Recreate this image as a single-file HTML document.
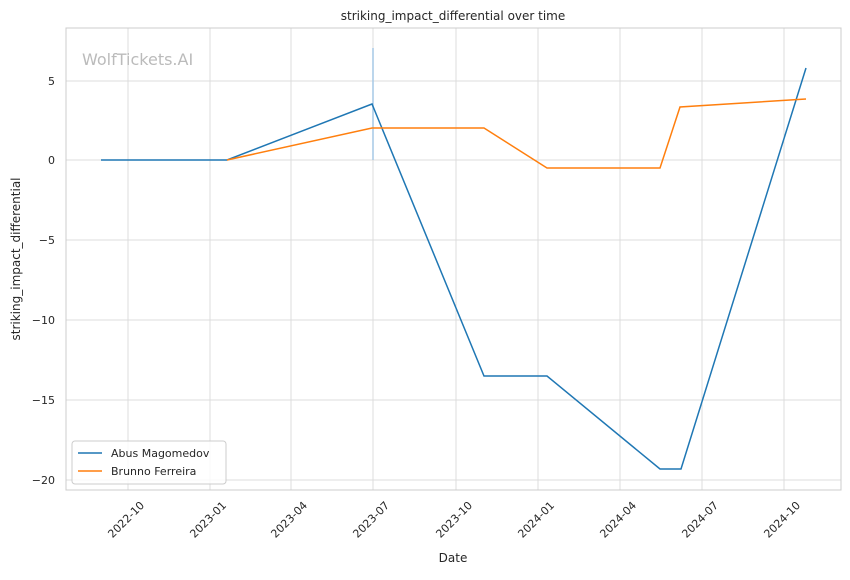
<!DOCTYPE html>
<html><head><meta charset="utf-8"><style>
body{margin:0;background:#fff;font-family:"Liberation Sans","DejaVu Sans",sans-serif;}
</style></head><body>
<svg width="850" height="575" xmlns="http://www.w3.org/2000/svg" font-family="DejaVu Sans, Liberation Sans, sans-serif">
<rect width="850" height="575" fill="#fff"/>
<g stroke="#dcdcdc" stroke-width="1">
<line x1="128" y1="28" x2="128" y2="490"/><line x1="210" y1="28" x2="210" y2="490"/>
<line x1="291" y1="28" x2="291" y2="490"/><line x1="373" y1="28" x2="373" y2="490"/>
<line x1="456" y1="28" x2="456" y2="490"/><line x1="538" y1="28" x2="538" y2="490"/>
<line x1="620" y1="28" x2="620" y2="490"/><line x1="702" y1="28" x2="702" y2="490"/>
<line x1="784" y1="28" x2="784" y2="490"/>
<line x1="66" y1="81" x2="841" y2="81"/><line x1="66" y1="160" x2="841" y2="160"/>
<line x1="66" y1="240" x2="841" y2="240"/><line x1="66" y1="320" x2="841" y2="320"/>
<line x1="66" y1="400" x2="841" y2="400"/><line x1="66" y1="480" x2="841" y2="480"/>
</g>
<rect x="66" y="28" width="775" height="462" fill="none" stroke="#ccc" stroke-width="1"/>
<text x="82" y="65" font-size="16" fill="#bbb">WolfTickets.AI</text>
<line x1="373" y1="48" x2="373" y2="160" stroke="#a6c8e6" stroke-width="1.5"/>
<polyline fill="none" stroke="#1f77b4" stroke-width="1.5" points="101,160 227,160 372,104 484,376 547,376 660,469 681,469 806,68"/>
<polyline fill="none" stroke="#ff7f0e" stroke-width="1.5" points="227,160 372,128 484,128 547,168 660,168 680,107 806,99"/>
<g font-size="11" fill="#262626" text-anchor="end">
<text x="55" y="85">5</text><text x="55" y="164">0</text><text x="55" y="244">−5</text>
<text x="55" y="324">−10</text><text x="55" y="404">−15</text><text x="55" y="484">−20</text>
</g>
<g font-size="11" fill="#262626" text-anchor="end">
<text transform="translate(145,506) rotate(-45)">2022-10</text>
<text transform="translate(227,506) rotate(-45)">2023-01</text>
<text transform="translate(308,506) rotate(-45)">2023-04</text>
<text transform="translate(390,506) rotate(-45)">2023-07</text>
<text transform="translate(473,506) rotate(-45)">2023-10</text>
<text transform="translate(555,506) rotate(-45)">2024-01</text>
<text transform="translate(637,506) rotate(-45)">2024-04</text>
<text transform="translate(719,506) rotate(-45)">2024-07</text>
<text transform="translate(801,506) rotate(-45)">2024-10</text>
</g>
<text x="453" y="562" font-size="12" fill="#262626" text-anchor="middle">Date</text>
<text transform="translate(20,259) rotate(-90)" font-size="12" fill="#262626" text-anchor="middle">striking_impact_differential</text>
<text x="453" y="20" font-size="12" fill="#262626" text-anchor="middle">striking_impact_differential over time</text>
<rect x="72" y="441" width="154" height="43" rx="3" fill="#fff" fill-opacity="0.8" stroke="#ccc"/>
<line x1="78" y1="453" x2="102" y2="453" stroke="#1f77b4" stroke-width="1.5"/>
<text x="111" y="457" font-size="11" fill="#262626">Abus Magomedov</text>
<line x1="78" y1="471" x2="102" y2="471" stroke="#ff7f0e" stroke-width="1.5"/>
<text x="111" y="475" font-size="11" fill="#262626">Brunno Ferreira</text>
</svg>
</body></html>
